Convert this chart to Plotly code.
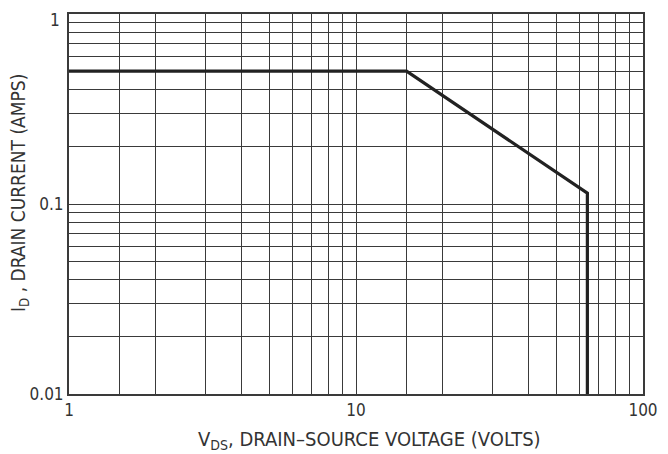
import plotly.graph_objects as go

# Safe operating area curve
vds = [1, 15, 64, 64, 64]
i_d = [0.5, 0.5, 0.114, 0.05, 0.01]

x_grid = [1, 1.5, 2, 3, 4, 5, 6, 7, 8, 9, 10, 15, 20, 30, 40, 50, 60, 70, 80, 90, 100]
x_labels = {1: "1", 10: "10", 100: "100"}
y_grid = [0.01, 0.02, 0.03, 0.04, 0.05, 0.06, 0.07, 0.08, 0.09,
          0.1, 0.2, 0.3, 0.4, 0.5, 0.6, 0.7, 0.8, 0.9, 1]
y_labels = {0.01: "0.01", 0.1: "0.1"}
y_top_label = "1"

FONT = "Liberation Sans Narrow, DejaVu Sans Condensed, Roboto, sans-serif"
TXT = "#333333"

fig = go.Figure()
fig.add_trace(go.Scatter(x=vds, y=i_d, mode="lines",
                         line=dict(color="#222222", width=3.2),
                         showlegend=False, hoverinfo="skip"))

# page body has an 8px default margin; the figure is sized to fit inside it
fig.update_layout(
    width=660, height=446,
    margin=dict(l=61, r=25, t=6, b=60, autoexpand=False),
    paper_bgcolor="white", plot_bgcolor="white",
    font=dict(family=FONT, size=17, color=TXT),
    xaxis=dict(type="log", range=[0, 2], automargin=False,
               tickvals=x_grid, ticktext=[x_labels.get(v, "") for v in x_grid],
               showgrid=True, gridcolor="#3a3a3a", gridwidth=1.4,
               showline=True, linecolor="#3a3a3a", linewidth=2, mirror=True,
               ticks="", zeroline=False, tickfont=dict(size=17),
               ticklabeloverflow="allow"),
    yaxis=dict(type="log", range=[-2, 0], automargin=False,
               tickvals=y_grid, ticktext=[y_labels.get(v, "") for v in y_grid],
               showgrid=True, gridcolor="#3a3a3a", gridwidth=1.4,
               showline=True, linecolor="#3a3a3a", linewidth=2, mirror=True,
               ticks="", zeroline=False, tickfont=dict(size=17),
               ticklabeloverflow="allow"),
    annotations=[
        dict(text=y_top_label, xref="paper", yref="paper", x=0, xshift=-7,
             y=1, yshift=6, xanchor="right", yanchor="top", showarrow=False,
             font=dict(size=17, family=FONT, color=TXT)),
        dict(text="V<sub>DS</sub>, DRAIN–SOURCE VOLTAGE (VOLTS)",
             xref="paper", yref="paper", x=0.523, y=0, yshift=-46,
             xanchor="center", yanchor="middle", showarrow=False,
             font=dict(size=20, family=FONT, color=TXT)),
        dict(text="I<sub>D</sub> , DRAIN CURRENT (AMPS)",
             xref="paper", yref="paper", x=0, xshift=-49, y=0.529,
             xanchor="center", yanchor="middle", showarrow=False,
             textangle=-90,
             font=dict(size=19, family=FONT, color=TXT)),
    ],
)

fig.write_html("out.html")
